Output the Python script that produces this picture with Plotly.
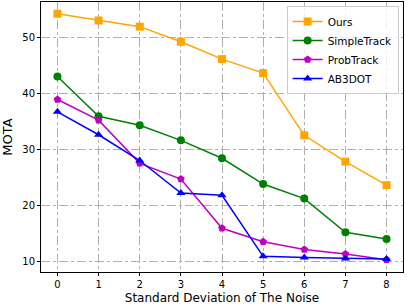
import plotly.graph_objects as go

x_vals = [0, 1, 2, 3, 4, 5, 6, 7, 8]
ours = [54.3, 53.1, 52.0, 49.3, 46.2, 43.7, 32.6, 27.9, 23.7]
simpletrack = [43.1, 36.0, 34.4, 31.7, 28.5, 23.9, 21.3, 15.3, 14.1]
probtrack = [39.0, 35.3, 27.6, 24.8, 16.0, 13.6, 12.2, 11.4, 10.4]
ab3dot = [36.8, 32.7, 28.1, 22.3, 21.9, 11.0, 10.8, 10.6, 10.5]

series = [
    ("Ours", ours, "#FFA500", "square"),
    ("SimpleTrack", simpletrack, "#008000", "circle"),
    ("ProbTrack", probtrack, "#BF00BF", "pentagon"),
    ("AB3DOT", ab3dot, "#0000FF", "triangle-up"),
]

fig = go.Figure()
for name, vals, color, sym in series:
    fig.add_trace(go.Scatter(
        x=x_vals, y=vals, name=name, mode="lines+markers",
        line=dict(color=color, width=1.5),
        marker=dict(symbol=sym, size=8, color=color),
    ))

axis_common = dict(
    showline=True, linecolor="black", linewidth=1, mirror=True,
    ticks="outside", ticklen=3, tickcolor="black",
    showgrid=True, gridcolor="#b0b0b0", griddash="dashdot", gridwidth=0.8,
    zeroline=False, tickfont=dict(family="DejaVu Sans", size=10, color="black"),
)

fig.update_layout(
    width=407, height=308,
    margin=dict(l=41, r=4, t=2, b=36, autoexpand=False),
    paper_bgcolor="white", plot_bgcolor="white",
    font=dict(family="DejaVu Sans", color="black"),
    xaxis=dict(range=[-0.4, 8.4], tickmode="array", tickvals=x_vals,
               title=dict(text="Standard Deviation of The Noise", font=dict(size=12), standoff=4),
               **axis_common),
    yaxis=dict(range=[8.2, 56.4], tickvals=[10, 20, 30, 40, 50],
               title=dict(text="MOTA", font=dict(size=13), standoff=6),
               **axis_common),
    legend=dict(x=0.988, y=0.985, xanchor="right", yanchor="top",
                bgcolor="rgba(255,255,255,0.8)", bordercolor="#cccccc", borderwidth=1,
                font=dict(size=10.5), itemwidth=30, tracegroupgap=0),
    showlegend=True,
)

fig.write_html("out.html", config={"displayModeBar": False},
               post_script="document.body.style.margin='0';document.body.style.padding='0';")
